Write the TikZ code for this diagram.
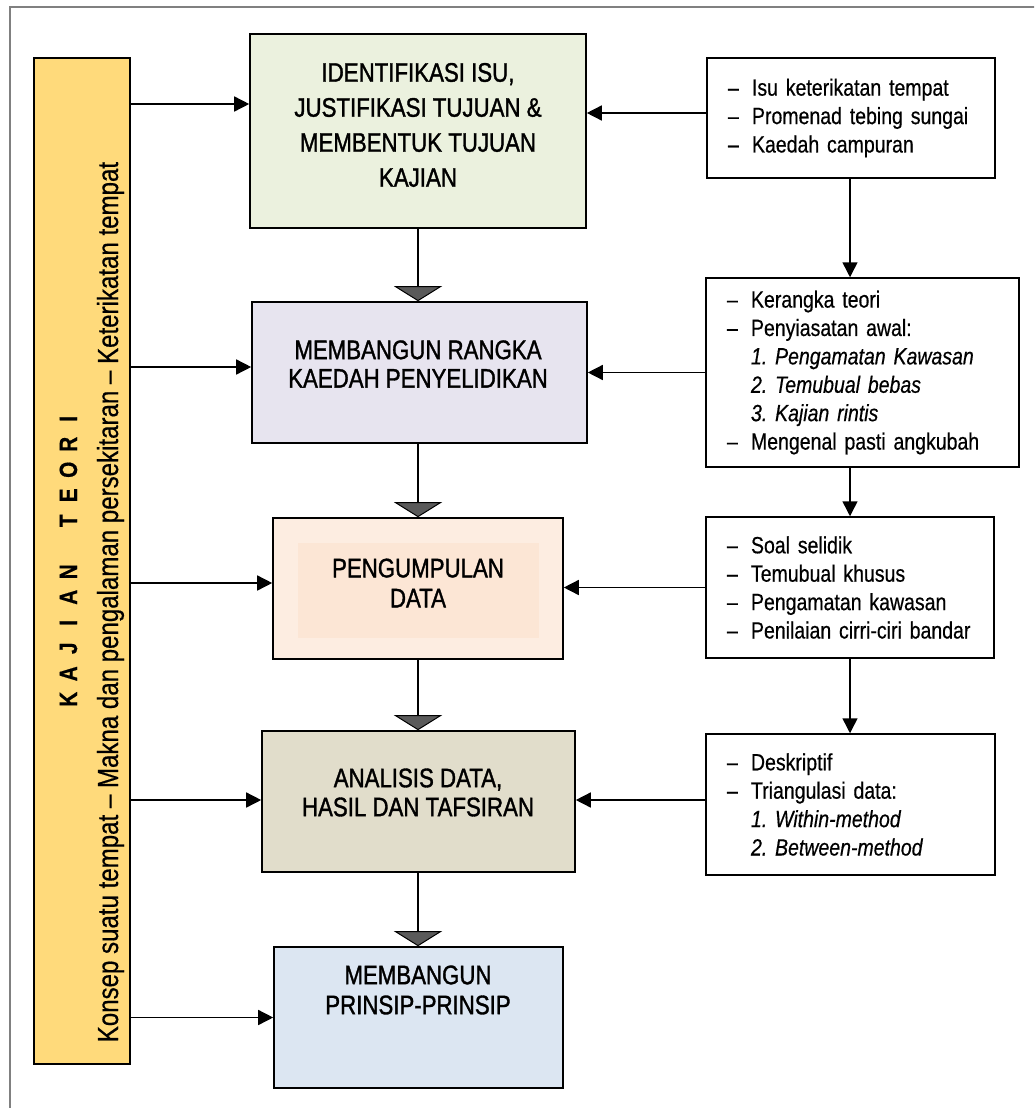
\documentclass[tikz,border=0pt]{standalone}
\usepackage{fontspec}
\setmainfont{Liberation Sans}[FakeStretch=0.83, FakeBold=0.5]
\newfontfamily\titlefont{Liberation Sans}[FakeStretch=0.83, FakeBold=1.3]
\usetikzlibrary{arrows.meta,calc}
\definecolor{framec}{HTML}{808080}
\definecolor{greenf}{HTML}{EBF1DE}
\definecolor{lavf}{HTML}{E7E4EF}
\definecolor{peachf}{HTML}{FDEDE1}
\definecolor{peachin}{HTML}{FCE6D5}
\definecolor{tanf}{HTML}{E1DDCB}
\definecolor{bluef}{HTML}{DCE6F2}
\definecolor{yellowf}{HTML}{FFDA7B}
\definecolor{trif}{HTML}{5A5A5A}
\newcommand{\kjletter}[1]{\makebox[25.5pt]{#1}}
\frenchspacing
\begin{document}
\begin{tikzpicture}[x=1pt,y=-1pt,
  mainbox/.style={draw=black, line width=1.6pt, inner sep=0pt},
  title/.style={align=center, inner sep=0pt},
  rbox/.style={draw=black, line width=1.5pt, fill=white, align=left, inner xsep=21pt, inner ysep=0pt, font=\fontsize{23.5}{28.4}\selectfont},
  arr/.style={-{Triangle[length=15pt,width=15pt]}, line width=1.5pt},
  flow/.style={-{Triangle[length=15pt,width=48pt,fill=trif,color=black,line width=1pt]}, line width=2.5pt}
]
\useasboundingbox (0,0) rectangle (1034,1108);
\clip (0,0) rectangle (1034,1108);
\fill[white] (0,0) rectangle (1034,1108);
% outer frame
\draw[framec, line width=1.5pt] (10,1120) -- (10,7) -- (1045,7);

% yellow bar
\node[mainbox, fill=yellowf, minimum width=96pt, minimum height=1006pt] (kt) at (82,561) {};
\node[rotate=90, anchor=base, font=\bfseries\fontsize{25}{26}\selectfont, inner sep=0pt] (ktitle) at (77,559)
  {\kjletter{K}\kjletter{A}\kjletter{J}\kjletter{I}\kjletter{A}\kjletter{N}\kjletter{}\kjletter{T}\kjletter{E}\kjletter{O}\kjletter{R}\kjletter{I}};
\node[rotate=90, anchor=base, font=\fontsize{29}{30}\selectfont, inner sep=0pt] (ktsub) at (118,602)
  {Konsep suatu tempat – Makna dan pengalaman persekitaran – Keterikatan tempat};

% main boxes
\node[mainbox, fill=greenf, minimum width=336pt, minimum height=194pt] (b1) at (418,131) {};
\node[title, font=\titlefont\fontsize{26.8}{35}\selectfont] (b1t) at (418,125) {IDENTIFIKASI ISU,\\JUSTIFIKASI TUJUAN \&\\MEMBENTUK TUJUAN\\KAJIAN};

\node[mainbox, fill=lavf, minimum width=335pt, minimum height=141pt] (b2) at (419.5,372.5) {};
\node[title, font=\titlefont\fontsize{26.8}{28.5}\selectfont] (b2t) at (418,364) {MEMBANGUN RANGKA\\KAEDAH PENYELIDIKAN};

\node[mainbox, fill=peachf, minimum width=290pt, minimum height=141pt] (b3) at (418,588.5) {};
\node[fill=peachin, minimum width=241pt, minimum height=95pt, inner sep=0pt] (b3in) at (418.5,590.5) {};
\node[title, font=\titlefont\fontsize{26.8}{30}\selectfont] (b3t) at (418,583) {PENGUMPULAN\\DATA};

\node[mainbox, fill=tanf, minimum width=313pt, minimum height=141pt] (b4) at (418.5,801.5) {};
\node[title, font=\titlefont\fontsize{26.8}{29}\selectfont] (b4t) at (418,792.5) {ANALISIS DATA,\\HASIL DAN TAFSIRAN};

\node[mainbox, fill=bluef, minimum width=289pt, minimum height=141pt] (b5) at (418.5,1017.5) {};
\node[title, font=\titlefont\fontsize{26.8}{30}\selectfont] (b5t) at (418,990) {MEMBANGUN\\PRINSIP-PRINSIP};

% right boxes
\node[rbox, text width=246pt, minimum width=288pt, minimum height=120pt] (r1) at (851,118)
  {\makebox[24pt][l]{–}Isu keterikatan tempat\\
   \makebox[24pt][l]{–}Promenad tebing sungai\\
   \makebox[24pt][l]{–}Kaedah campuran};
\node[rbox, text width=271pt, minimum width=313pt, minimum height=189pt] (r2) at (862.5,372.5)
  {\makebox[24pt][l]{–}Kerangka teori\\
   \makebox[24pt][l]{–}Penyiasatan awal:\\
   \hspace*{24pt}\textit{1. Pengamatan Kawasan}\\
   \hspace*{24pt}\textit{2. Temubual bebas}\\
   \hspace*{24pt}\textit{3. Kajian rintis}\\
   \makebox[24pt][l]{–}Mengenal pasti angkubah};
\node[rbox, text width=246pt, minimum width=288pt, minimum height=141pt] (r3) at (850,587.5)
  {\makebox[24pt][l]{–}Soal selidik\\
   \makebox[24pt][l]{–}Temubual khusus\\
   \makebox[24pt][l]{–}Pengamatan kawasan\\
   \makebox[24pt][l]{–}Penilaian cirri-ciri bandar};
\node[rbox, text width=247pt, minimum width=289pt, minimum height=141pt] (r4) at (850.5,804.5)
  {\makebox[24pt][l]{–}Deskriptif\\
   \makebox[24pt][l]{–}Triangulasi data:\\
   \hspace*{24pt}\textit{1. Within-method}\\
   \hspace*{24pt}\textit{2. Between-method}};

% flow between main boxes
\draw[flow] (b1.south) -- (b1.south |- b2.north);
\draw[flow] (b1.south |- b2.south) -- (b1.south |- b3.north);
\draw[flow] (b3.south) -- (b3.south |- b4.north);
\draw[flow] (b3.south |- b4.south) -- (b3.south |- b5.north);

% left arrows from KAJIAN TEORI
\coordinate (l1) at ([yshift=27pt]b1.west);
\coordinate (l2) at ([yshift=5.5pt]b2.west);
\coordinate (l3) at ([yshift=5.5pt]b3.west);
\coordinate (l4) at ([yshift=1.5pt]b4.west);
\coordinate (l5) at (b5.west);
\foreach \c in {l1,l2,l3,l4,l5} \draw[arr] (\c -| kt.east) -- (\c);

% right boxes to main boxes
\coordinate (q1) at ([yshift=5pt]r1.west);
\coordinate (q4) at ([yshift=4.5pt]r4.west);
\draw[arr] (q1) -- (q1 -| b1.east);
\draw[arr] (r2.west) -- (r2.west -| b2.east);
\draw[arr] (r3.west) -- (r3.west -| b3.east);
\draw[arr] (q4) -- (q4 -| b4.east);

% right column chain
\draw[arr] (r3.north |- r1.south) -- (r3.north |- r2.north);
\draw[arr] (r3.north |- r2.south) -- (r3.north);
\draw[arr] (r3.south) -- (r3.south |- r4.north);
\end{tikzpicture}
\end{document}
